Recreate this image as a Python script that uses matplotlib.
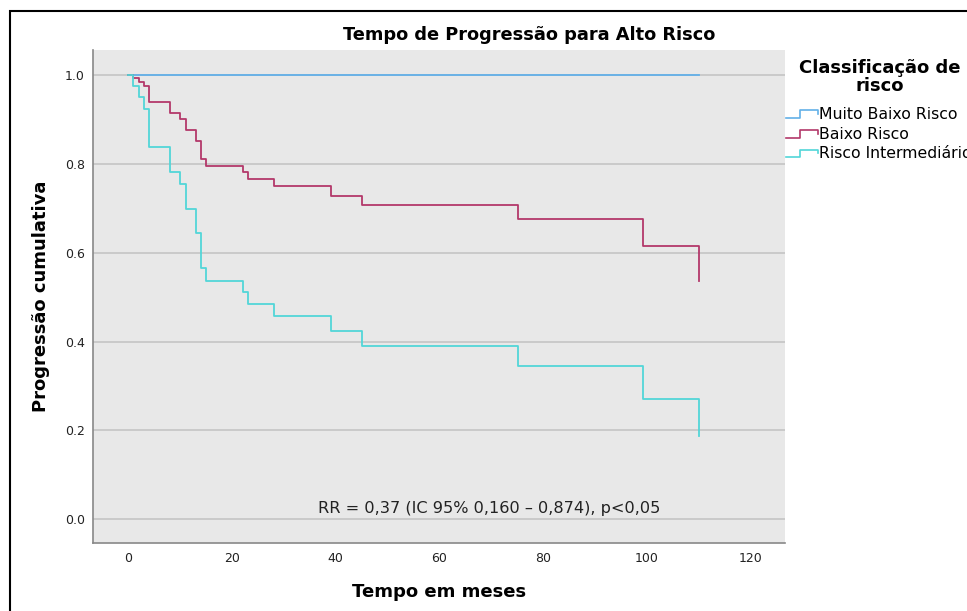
import matplotlib
matplotlib.use("Agg")
import matplotlib.pyplot as plt
from matplotlib.legend_handler import HandlerBase
from matplotlib.lines import Line2D
from matplotlib.patches import Rectangle

# curvas de progressao (tempo em meses, proporcao)
t_muito_baixo = [0, 110]
s_muito_baixo = [1.0, 1.0]

t_baixo = [0, 1, 2.2, 3.1, 4.1, 8.1, 10, 11.2, 13.1, 14.1, 15, 22.1, 23.1, 28.1, 39.1, 45.1, 75.1, 99.2, 110]
s_baixo = [1.0, 0.993, 0.984, 0.974, 0.938, 0.914, 0.901, 0.876, 0.851, 0.810, 0.795,
           0.781, 0.766, 0.750, 0.728, 0.707, 0.675, 0.616, 0.537]

t_interm = [0, 1, 2.2, 3.1, 4.1, 8.1, 10, 11.2, 13.1, 14.1, 15, 22.1, 23.1, 28.1, 39.1, 45.1, 75.1, 99.2, 110]
s_interm = [1.0, 0.975, 0.950, 0.923, 0.838, 0.782, 0.754, 0.698, 0.644, 0.565, 0.537,
            0.511, 0.485, 0.457, 0.424, 0.390, 0.345, 0.270, 0.187]

labels = ["Muito Baixo Risco", "Baixo Risco", "Risco Intermediário"]
colors = ["#62b0e8", "#b3386a", "#52d6d8"]

x_ticks = [0, 20, 40, 60, 80, 100, 120]
y_ticks = [0.0, 0.2, 0.4, 0.6, 0.8, 1.0]


class StepHandler(HandlerBase):
    def create_artists(self, legend, orig_handle, xdescent, ydescent,
                       width, height, fontsize, trans):
        x0 = -xdescent
        y0 = -ydescent
        xs = [x0, x0 + 0.45 * width, x0 + 0.45 * width, x0 + width, x0 + width]
        ys = [y0 + 0.1 * height, y0 + 0.1 * height, y0 + 0.8 * height,
              y0 + 0.8 * height, y0 + 0.45 * height]
        ln = Line2D(xs, ys, color=orig_handle.get_color(), lw=1.2, transform=trans)
        return [ln]


fig = plt.figure(figsize=(9.67, 6.11), dpi=100)
ax = fig.add_axes([0.0962, 0.1108, 0.7156, 0.8074])
ax.set_facecolor("#e8e8e8")

handles = []
for t, s, c, lab in [(t_muito_baixo, s_muito_baixo, colors[0], labels[0]),
                     (t_baixo, s_baixo, colors[1], labels[1]),
                     (t_interm, s_interm, colors[2], labels[2])]:
    ln, = ax.step(t, s, where="post", color=c, lw=1.3, label=lab, zorder=3)
    handles.append(ln)

ax.set_xlim(-6.7, 126.6)
ax.set_ylim(-0.054, 1.056)
ax.set_xticks(x_ticks)
ax.set_yticks(y_ticks)
ax.set_yticklabels([f"{v:.1f}" for v in y_ticks])
ax.tick_params(length=0, labelsize=9, colors="#222222", pad=6)
ax.grid(axis="y", color="#c4c4c4", lw=1.2)
ax.set_axisbelow(True)
for side in ["top", "right"]:
    ax.spines[side].set_visible(False)
for side in ["left", "bottom"]:
    ax.spines[side].set_color("#888888")
    ax.spines[side].set_linewidth(1.2)

ax.set_xlabel("Tempo em meses", fontsize=13, fontweight="bold", labelpad=13.5)
ax.set_ylabel("Progressão cumulativa", fontsize=13, fontweight="bold", labelpad=10.5)

ax.text(69.7, 0.008, "RR = 0,37 (IC 95% 0,160 – 0,874), p<0,05",
        ha="center", va="bottom", fontsize=11.6, color="#222222")

fig.text(0.547, 0.943, "Tempo de Progressão para Alto Risco",
         ha="center", va="center", fontsize=12.8, fontweight="bold")

# titulo da legenda
fig.text(880 / 967, 1 - 77 / 611, "Classificação de\nrisco", ha="center", va="center",
         multialignment="center", fontsize=13, fontweight="bold", linespacing=1.0)

leg = ax.legend(handles=handles, labels=labels,
                handler_map={Line2D: StepHandler()},
                loc="upper left", bbox_to_anchor=(0.813, 1 - 107 / 611),
                bbox_transform=fig.transFigure, frameon=False, fontsize=11.3,
                handlelength=2.0, handletextpad=0.1, labelspacing=0.3,
                borderaxespad=0, borderpad=0)

# moldura
fig.patches.append(Rectangle((9.5 / 967, -0.05), 1.2, 1 - 11 / 611 + 0.05,
                             transform=fig.transFigure, fill=False,
                             edgecolor="black", lw=1.5))

fig.savefig("out.png", dpi=100)
